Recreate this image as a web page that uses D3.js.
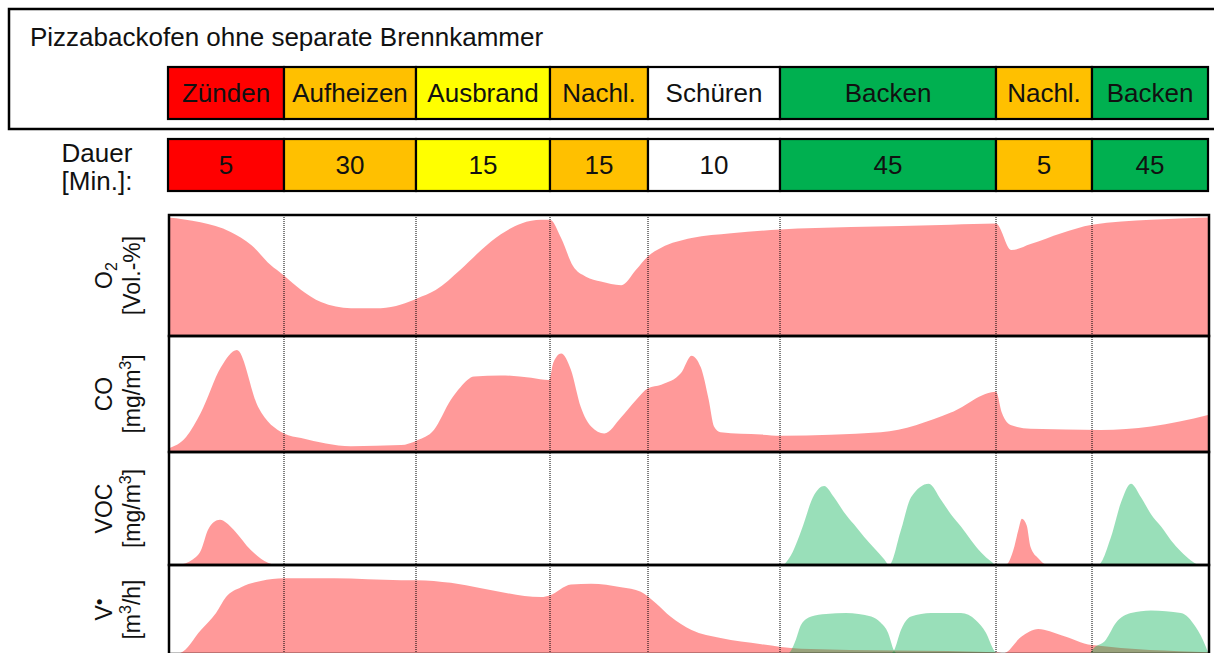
<!DOCTYPE html>
<html><head><meta charset="utf-8">
<script src="https://cdn.jsdelivr.net/npm/d3@7"></script>
<style>
body{margin:0;background:#fff;}
svg{display:block;font-family:"Liberation Sans",Arial,sans-serif;}
</style>
</head><body>
<svg id="c" width="1214" height="653"></svg>
<script>
// ---------- data ----------
const title = "Pizzabackofen ohne separate Brennkammer";
const phases = ["Zünden","Aufheizen","Ausbrand","Nachl.","Schüren","Backen","Nachl.","Backen"];
const durations = [5,30,15,15,10,45,5,45];
const phaseColors = ["#FF0000","#FFC000","#FFFF00","#FFC000","#FFFFFF","#00B050","#FFC000","#00B050"];
const dauerLabel = ["Dauer","[Min.]:"];

// time [min], relative value [0..100]
const o2 = [[0,98],[1.4,94],[2.7,86],[3.6,75],[4.4,59],[5,50],[8.9,38],[13.4,28],[20.2,23],[27,23],[31.6,26],[35.1,31],
  [37.2,38],[40,55],[42.3,71],[44.5,84],[46.8,93],[49,96],[50,96],[51.7,81],[53.5,58],[55.5,49],[57.8,45],[60.9,42],
  [63.2,55],[65,66],[66,73],[68.3,81],[71.3,85],[75,88],[89.8,90],[110.6,92],[120,93],[120.8,71],[121.8,76],[123.4,85],
  [125,92],[147.9,96],[170,98]];
const co = [[0,3],[0.78,13],[1.42,34],[2.28,73],[2.97,88],[3.88,39],[5,16],[8.9,12],[20.2,5],[31.6,6],[35.1,10],[37,19],
  [38.9,45],[40,56],[41.5,65],[44.5,66],[47.9,64],[49.9,62],[50.5,77],[51.7,85],[53.2,71],[54.7,39],[56.3,22],[58.3,16],
  [60.9,30],[63.2,45],[65,55],[66,58],[67.5,68],[68.3,83],[69,73],[69.6,45],[70,22],[70.5,17],[73.6,15],[75.2,14],
  [96,17],[110.6,34],[120,52],[120.3,34],[120.8,23],[121.8,20],[128.5,19],[147.9,22],[170,32]];
const vocRed = [[0,0],[0.4,0],[1.08,5],[1.42,13],[1.72,31],[1.98,38],[2.24,40],[2.54,37],[2.84,31],[3.58,13],[4.31,2],[4.66,0],
  [120.5,0],[120.9,13],[121.15,30],[121.35,41],[121.6,35],[121.8,16],[122.2,6],[122.7,0],[170,0]];
const vocGreen = [[75.8,0],[77.7,12],[79.4,30],[82.1,62],[84.2,70],[86.25,60],[88.3,47],[90.4,36],[92.5,25],[94.6,15],[96.7,5],[97.7,0],
  [100.2,31],[102.3,60],[106,72],[108.5,58],[110.6,45],[112.7,34],[114.8,22],[116.9,11],[119,3],[120,0],
  [127.3,0],[132.4,25],[136.2,55],[140.1,72],[144,60],[147.9,45],[151.8,34],[155.6,22],[159.5,12],[163.4,4],[166.1,0]];
const flowRed = [[0,0],[0.5,1],[1.42,27],[2.07,46],[2.5,64],[3.15,75],[4,82],[5,85],[16.4,85],[31.6,83],[35.1,83],[38.9,80],
  [42.3,74],[49,64],[50,66],[53.2,78],[56.3,79],[60.9,75],[63.9,70],[65.6,57],[66.7,42],[68.3,27],[70.5,18],[73.6,11],
  [75.2,8],[79.4,6],[120,2],[120.4,1],[121.3,19],[122.2,28],[123.4,21],[125,10],[170,2]];
const flowGreenA = [[76.7,0],[77.3,4],[78.3,16],[79.4,33],[81.5,42],[84.6,45],[88.75,46],[94,42],[96,35],[97.5,24],[98.75,4],[99.4,0]];
const flowGreenB = [[98.1,0],[98.75,4],[100.2,27],[102.3,42],[106.5,46],[112.7,46],[115.8,38],[117.9,24],[119.6,4],[120.05,0]];
const flowGreenC = [[124.9,0],[125,4],[130.4,16],[134.3,35],[140.1,46],[147.9,49],[159.5,46],[165.3,30],[169.2,8],[170,2]];

// ---------- layout ----------
const phaseWidths = [116,132,134,98,132,216,96,116];
const plotL = 168;
const FONT = 26;
const svg = d3.select("#c");

const cumMin = [0, ...d3.cumsum(durations)];
const cumPx = [plotL, ...Array.from(d3.cumsum(phaseWidths), v => plotL + v)];
const plotR = cumPx[cumPx.length-1];
const x = d3.scaleLinear().domain(cumMin).range(cumPx);

// header box
svg.append("rect").attr("x",9).attr("y",9).attr("width",1230).attr("height",120)
  .attr("fill","none").attr("stroke","#000").attr("stroke-width",2.5);
svg.append("text").attr("x",30).attr("y",46).attr("font-size",FONT).attr("fill","#111").text(title);

function phaseRow(y0, h, labels) {
  const g = svg.append("g");
  phases.forEach((p,i) => {
    const x0 = x(cumMin[i]), x1 = x(cumMin[i+1]);
    g.append("rect").attr("x",x0).attr("y",y0).attr("width",x1-x0).attr("height",h)
      .attr("fill",phaseColors[i]).attr("stroke","#000").attr("stroke-width",2.2);
    g.append("text").attr("x",(x0+x1)/2).attr("y",y0+h/2+FONT*0.36)
      .attr("text-anchor","middle").attr("font-size",FONT).attr("fill","#111").text(labels[i]);
  });
}
phaseRow(67, 52, phases);
phaseRow(139, 52, durations.map(String));
svg.append("text").attr("x",97).attr("y",162).attr("text-anchor","middle").attr("font-size",FONT).attr("fill","#111").text(dauerLabel[0]);
svg.append("text").attr("x",97).attr("y",190).attr("text-anchor","middle").attr("font-size",FONT).attr("fill","#111").text(dauerLabel[1]);

// panels
const panels = [
  {top:215,bottom:336, l1:[["O",""],["2","sub"]], l2:[["[Vol.-%]",""]],
   series:[[o2,"red"]]},
  {top:336,bottom:452, l1:[["CO",""]], l2:[["[mg/m",""],["3","sup"],["]",""]],
   series:[[co,"red"]]},
  {top:452,bottom:565, l1:[["VOC",""]], l2:[["[mg/m",""],["3","sup"],["]",""]],
   series:[[vocRed,"red"],[vocGreen,"green"]]},
  {top:565,bottom:654, l1:[["V",""],["•","dot"]], l2:[["[m",""],["3","sup"],["/h]",""]],
   series:[[flowRed,"red"],[flowGreenA,"green"],[flowGreenB,"green"],[flowGreenC,"green"]]}
];
const fills = {red:"rgba(255,0,0,0.4)", green:"rgba(0,176,80,0.4)"};

const defs = svg.append("defs");
panels.forEach((p,pi) => {
  const y = d3.scaleLinear().domain([0,100]).range([p.bottom, p.top]);
  defs.append("clipPath").attr("id","clip"+pi).append("rect")
    .attr("x",plotL).attr("y",p.top).attr("width",plotR-plotL).attr("height",p.bottom-p.top);
  const area = d3.area().x(d => x(d[0])).y0(y(0)).y1(d => y(d[1])).curve(d3.curveMonotoneX);
  const g = svg.append("g").attr("clip-path",`url(#clip${pi})`);
  p.series.forEach(([data,col]) => {
    g.append("path").datum(data).attr("d",area).attr("fill",fills[col]);
  });
  // labels
  const cy = (p.top+p.bottom)/2;
  [[p.l1,112],[p.l2,140]].forEach(([parts,bx]) => {
    const t = svg.append("text").attr("transform",`translate(${bx},${cy}) rotate(-90)`)
      .attr("text-anchor","middle").attr("font-size",23).attr("fill","#111");
    let prevDy = 0;
    parts.forEach(([s,k]) => {
      const ts = t.append("tspan").text(s);
      let dy = 0, fs = null;
      if (k==="sub") { fs = 16; dy = 5; }
      if (k==="sup") { fs = 16; dy = -9; }
      if (k==="dot") { fs = 19; dy = -6; }
      if (fs) ts.attr("font-size",fs);
      const shift = dy - prevDy;
      if (shift) ts.attr("dy",shift);
      prevDy = dy;
    });
  });
});

// dotted phase separators
cumMin.slice(1,-1).forEach(m => {
  svg.append("line").attr("x1",x(m)).attr("x2",x(m)).attr("y1",panels[0].top).attr("y2",panels[3].bottom)
    .attr("stroke","#000").attr("stroke-width",1).attr("stroke-dasharray","1,1");
});
// panel borders
panels.forEach(p => {
  svg.append("rect").attr("x",plotL+1).attr("y",p.top).attr("width",plotR-plotL).attr("height",p.bottom-p.top)
    .attr("fill","none").attr("stroke","#000").attr("stroke-width",2.5);
});
</script>
</body></html>
